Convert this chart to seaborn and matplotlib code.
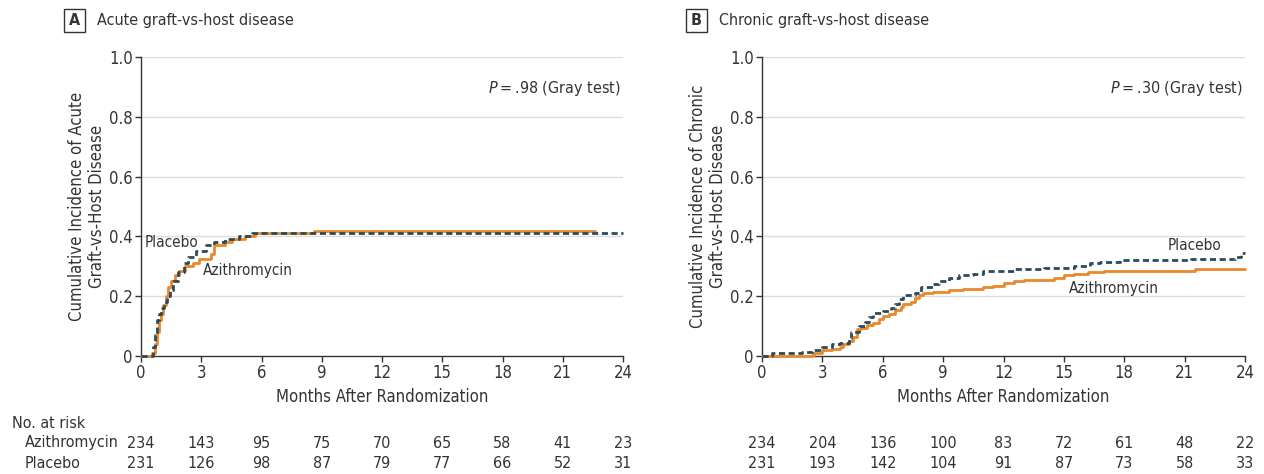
import matplotlib
matplotlib.use("Agg")
import matplotlib.pyplot as plt
import seaborn as sns
from matplotlib.patches import Rectangle

# acute GVHD cumulative incidence (step points)
acute_azi_t = [0, 0.55, 0.7, 0.8, 0.9, 1.0, 1.1, 1.25, 1.35, 1.5, 1.7, 1.9, 2.2, 2.6, 2.9, 3.5, 3.65, 4.2, 4.55, 5.2, 5.7, 7.3, 8.6, 22.6]
acute_azi_y = [0, 0.01, 0.04, 0.08, 0.12, 0.14, 0.17, 0.20, 0.23, 0.25, 0.27, 0.285, 0.30, 0.31, 0.325, 0.34, 0.37, 0.38, 0.39, 0.40, 0.41, 0.412, 0.418, 0.418]
acute_pla_t = [0, 0.6, 0.7, 0.8, 0.9, 1.0, 1.15, 1.3, 1.45, 1.6, 1.85, 2.15, 2.35, 2.75, 3.25, 3.65, 4.2, 4.9, 5.55, 24]
acute_pla_y = [0, 0.03, 0.07, 0.12, 0.14, 0.16, 0.18, 0.20, 0.22, 0.25, 0.28, 0.31, 0.33, 0.35, 0.37, 0.38, 0.39, 0.40, 0.41, 0.41]

# chronic GVHD
chron_azi_t = [0, 2.5, 2.6, 3.0, 3.5, 3.9, 4.0, 4.3, 4.5, 4.7, 4.9, 5.2, 5.5, 5.8, 6.0, 6.3, 6.6, 6.9, 7.0, 7.4, 7.6, 7.8, 8.0, 8.5, 9.3, 10.0, 11.0, 11.5, 12.0, 12.5, 13.0, 14.5, 15.0, 15.5, 16.2, 17.0, 21.5, 24]
chron_azi_y = [0, 0.005, 0.01, 0.02, 0.025, 0.03, 0.04, 0.05, 0.065, 0.09, 0.095, 0.105, 0.11, 0.125, 0.135, 0.14, 0.155, 0.165, 0.175, 0.18, 0.195, 0.205, 0.21, 0.215, 0.22, 0.225, 0.23, 0.235, 0.245, 0.25, 0.255, 0.26, 0.27, 0.275, 0.28, 0.285, 0.29, 0.29]
chron_pla_t = [0, 0.5, 2.0, 2.5, 3.0, 3.5, 3.9, 4.3, 4.4, 4.8, 5.1, 5.3, 5.5, 6.0, 6.4, 6.6, 6.8, 7.0, 7.6, 7.9, 8.5, 8.8, 9.3, 9.8, 10.5, 11.0, 12.5, 14.0, 15.5, 16.3, 16.8, 17.8, 21.3, 23.5, 23.8, 24]
chron_pla_y = [0, 0.01, 0.015, 0.02, 0.03, 0.04, 0.045, 0.06, 0.08, 0.10, 0.115, 0.13, 0.145, 0.15, 0.16, 0.175, 0.19, 0.205, 0.21, 0.23, 0.24, 0.25, 0.26, 0.27, 0.275, 0.285, 0.29, 0.295, 0.30, 0.31, 0.315, 0.32, 0.325, 0.33, 0.345, 0.345]

months = [0, 3, 6, 9, 12, 15, 18, 21, 24]
acute_risk_azi = [234, 143, 95, 75, 70, 65, 58, 41, 23]
acute_risk_pla = [231, 126, 98, 87, 79, 77, 66, 52, 31]
chron_risk_azi = [234, 204, 136, 100, 83, 72, 61, 48, 22]
chron_risk_pla = [231, 193, 142, 104, 91, 87, 73, 58, 33]

ORANGE = "#E8892A"
NAVY = "#2B4B5A"
TXT = "#333333"

sns.set_theme(style="ticks")
plt.rcParams["font.family"] = ["DejaVu Sans"]
plt.rcParams["font.stretch"] = "condensed"
plt.rcParams["mathtext.fontset"] = "custom"
plt.rcParams["mathtext.it"] = "DejaVu Sans:italic:stretch=condensed"

W, H = 1264, 474
fig = plt.figure(figsize=(W / 100, H / 100), dpi=100)


def px_axes(x0, x1, ytop, ybot):
    return fig.add_axes([x0 / W, 1 - ybot / H, (x1 - x0) / W, (ybot - ytop) / H])


def panel(ax, letter, title, ylab, azi_t, azi_y, pla_t, pla_y, ptxt, lab_pla, lab_azi, box_x, risk_azi, risk_pla):
    sns.lineplot(x=azi_t, y=azi_y, ax=ax, drawstyle="steps-post", color=ORANGE,
                 lw=2, estimator=None, clip_on=False, zorder=3)
    sns.lineplot(x=pla_t, y=pla_y, ax=ax, drawstyle="steps-post", color=NAVY,
                 lw=2, estimator=None, clip_on=False, zorder=4, dashes=False, linestyle=(0, (2.2, 1.3)))
    ax.set_xlim(0, 24)
    ax.set_ylim(0, 1.0)
    ax.set_xticks(months)
    ax.set_yticks([0, 0.2, 0.4, 0.6, 0.8, 1.0])
    ax.set_yticklabels(["0", "0.2", "0.4", "0.6", "0.8", "1.0"])
    for yv in [0.2, 0.4, 0.6, 0.8, 1.0]:
        ax.axhline(yv, color="#dddddd", lw=1, zorder=1)
    sns.despine(ax=ax)
    for s in ["left", "bottom"]:
        ax.spines[s].set_color(TXT)
        ax.spines[s].set_linewidth(1)
    ax.tick_params(direction="out", length=4, width=1, color=TXT, labelcolor=TXT, labelsize=12, pad=2)
    ax.set_xlabel("Months After Randomization", fontsize=12, color=TXT, labelpad=4)
    ax.set_ylabel(ylab, fontsize=12, color=TXT, labelpad=2, linespacing=1.15)
    ax.text(23.9, 0.893, ptxt, ha="right", va="center", fontsize=11.5, color=TXT)
    ax.text(lab_pla[0], lab_pla[1], "Placebo", ha="center", va="center", fontsize=11, color=TXT)
    ax.text(lab_azi[0], lab_azi[1], "Azithromycin", ha="center", va="center", fontsize=11, color=TXT)

    # panel letter box and title
    fig.patches.append(Rectangle((box_x / W, 1 - 32 / H), 21 / W, 23 / H, transform=fig.transFigure,
                                 fill=False, edgecolor=TXT, lw=1))
    fig.text((box_x + 10.5) / W, 1 - 20.5 / H, letter, ha="center", va="center", fontsize=11.5,
             fontweight="bold", color=TXT)
    fig.text((box_x + 33) / W, 1 - 20.5 / H, title, ha="left", va="center", fontsize=11.5, color=TXT)

    # number at risk
    tr = ax.get_xaxis_transform()
    for m, a, p in zip(months, risk_azi, risk_pla):
        ax.text(m, -(443 - 356) / 299, str(a), transform=tr, ha="center", va="center",
                fontsize=11.5, color=TXT, clip_on=False)
        ax.text(m, -(463 - 356) / 299, str(p), transform=tr, ha="center", va="center",
                fontsize=11.5, color=TXT, clip_on=False)


axA = px_axes(141, 623, 57, 356)
axB = px_axes(762, 1245, 57, 356)

panel(axA, "A", "Acute graft-vs-host disease",
      "Cumulative Incidence of Acute\nGraft-vs-Host Disease",
      acute_azi_t, acute_azi_y, acute_pla_t, acute_pla_y,
      "$P$\u2009=\u2009.98 (Gray test)", (1.5, 0.378), (5.3, 0.285), 64,
      acute_risk_azi, acute_risk_pla)
panel(axB, "B", "Chronic graft-vs-host disease",
      "Cumulative Incidence of Chronic\nGraft-vs-Host Disease",
      chron_azi_t, chron_azi_y, chron_pla_t, chron_pla_y,
      "$P$\u2009=\u2009.30 (Gray test)", (21.5, 0.368), (17.5, 0.227), 686,
      chron_risk_azi, chron_risk_pla)

fig.text(12 / W, 1 - 423 / H, "No. at risk", ha="left", va="center", fontsize=11.5, color=TXT)
fig.text(25 / W, 1 - 443 / H, "Azithromycin", ha="left", va="center", fontsize=11.5, color=TXT)
fig.text(25 / W, 1 - 463 / H, "Placebo", ha="left", va="center", fontsize=11.5, color=TXT)

fig.savefig("out.png", dpi=100)
